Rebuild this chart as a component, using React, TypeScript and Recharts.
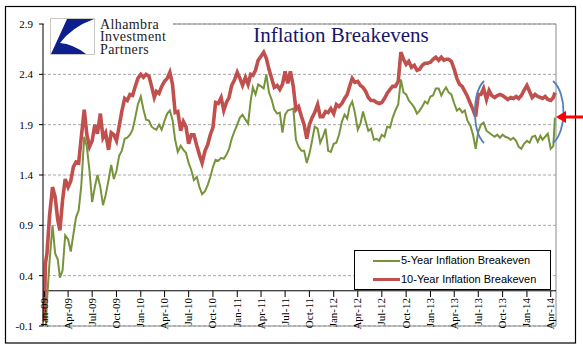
import React from 'react';
import { LineChart, Line, XAxis, YAxis, CartesianGrid, ReferenceLine } from 'recharts';

// ---- data ----
const DATES: string[] = [
  '2009-01-01','2009-01-05','2009-01-11','2009-01-21',
  '2009-02-01','2009-02-11','2009-02-21','2009-03-01','2009-03-11','2009-03-21',
  '2009-04-01','2009-04-11','2009-04-21','2009-05-01','2009-05-11','2009-05-21',
  '2009-06-01','2009-06-11','2009-06-21','2009-07-01','2009-07-11','2009-07-21',
  '2009-08-01','2009-08-11','2009-08-21','2009-09-01','2009-09-11','2009-09-21',
  '2009-10-01','2009-10-11','2009-10-21','2009-11-01','2009-11-11','2009-11-21',
  '2009-12-01','2009-12-11','2009-12-21',
  '2010-01-01','2010-01-11','2010-01-21','2010-02-01','2010-02-11','2010-02-21',
  '2010-03-01','2010-03-11','2010-03-21','2010-04-01','2010-04-11','2010-04-21',
  '2010-05-01','2010-05-11','2010-05-21','2010-06-01','2010-06-11','2010-06-21',
  '2010-07-01','2010-07-11','2010-07-21','2010-08-01','2010-08-11','2010-08-21',
  '2010-09-01','2010-09-11','2010-09-21','2010-10-01','2010-10-11','2010-10-21',
  '2010-11-01','2010-11-11','2010-11-21','2010-12-01','2010-12-11','2010-12-21',
  '2011-01-01','2011-01-11','2011-01-21','2011-02-01','2011-02-11','2011-02-21',
  '2011-03-01','2011-03-11','2011-03-21','2011-04-01','2011-04-11','2011-04-21',
  '2011-05-01','2011-05-11','2011-05-21','2011-06-01','2011-06-11','2011-06-21',
  '2011-07-01','2011-07-11','2011-07-21','2011-08-01','2011-08-11','2011-08-21',
  '2011-09-01','2011-09-11','2011-09-21','2011-10-01','2011-10-11','2011-10-21',
  '2011-11-01','2011-11-11','2011-11-21','2011-12-01','2011-12-11','2011-12-21',
  '2012-01-01','2012-01-11','2012-01-21','2012-02-01','2012-02-11','2012-02-21',
  '2012-03-01','2012-03-11','2012-03-21','2012-04-01','2012-04-11','2012-04-21',
  '2012-05-01','2012-05-11','2012-05-21','2012-06-01','2012-06-11','2012-06-21',
  '2012-07-01','2012-07-11','2012-07-21','2012-08-01','2012-08-11','2012-08-21',
  '2012-09-01','2012-09-11','2012-09-21','2012-10-01','2012-10-11','2012-10-21',
  '2012-11-01','2012-11-11','2012-11-21','2012-12-01','2012-12-11','2012-12-21',
  '2013-01-01','2013-01-11','2013-01-21','2013-02-01','2013-02-11','2013-02-21',
  '2013-03-01','2013-03-11','2013-03-21','2013-04-01','2013-04-11','2013-04-21',
  '2013-05-01','2013-05-11','2013-05-21','2013-06-01','2013-06-11','2013-06-21',
  '2013-07-01','2013-07-11','2013-07-21','2013-08-01','2013-08-11','2013-08-21',
  '2013-09-01','2013-09-11','2013-09-21','2013-10-01','2013-10-11','2013-10-21',
  '2013-11-01','2013-11-11','2013-11-21','2013-12-01','2013-12-11','2013-12-21',
  '2014-01-01','2014-01-11','2014-01-21','2014-02-01','2014-02-11','2014-02-21',
  '2014-03-01','2014-03-11','2014-03-21','2014-04-01','2014-04-11','2014-04-17',
];

const FIVE_YEAR: number[] = [
  -0.45, -0.2, 0.15, 0.55,
  0.90, 0.62, 0.56, 0.38, 0.45, 0.80,
  0.76, 0.64, 0.81, 0.98, 1.05, 1.30,
  1.78, 1.68, 1.44, 1.13, 1.28, 1.40,
  1.28, 1.10, 1.20, 1.35, 1.50, 1.36,
  1.44, 1.59, 1.64, 1.76, 1.77, 1.80,
  1.85, 1.97, 2.10,
  2.18, 2.05, 1.95, 1.94, 1.88, 1.86,
  1.85, 1.90, 1.85, 1.94, 2.01, 2.04,
  1.95, 1.75, 1.63, 1.69, 1.65, 1.62,
  1.52, 1.45, 1.35, 1.38, 1.28, 1.21,
  1.24, 1.30, 1.38, 1.48, 1.55, 1.54,
  1.57, 1.56, 1.60, 1.66, 1.76, 1.83,
  1.90, 1.97, 2.00, 1.95, 1.91, 2.14,
  2.27, 2.20, 2.30, 2.28, 2.26, 2.40,
  2.22, 2.15, 2.05, 2.01, 2.02, 1.82,
  2.00, 2.04, 2.05, 2.06, 1.75, 1.68,
  1.64, 1.64, 1.52, 1.61, 1.74, 1.88,
  1.86, 1.72, 1.78, 1.86, 1.64, 1.63,
  1.71, 1.72, 1.80, 1.93, 2.00, 1.96,
  2.08, 2.13, 2.02, 1.85, 1.91, 2.03,
  1.93, 1.84, 1.86, 1.75, 1.76, 1.74,
  1.80, 1.78, 1.88, 1.87, 1.97, 2.04,
  2.10, 2.35, 2.22, 2.20, 2.14, 2.11,
  2.07, 2.01, 2.04, 2.08, 2.13, 2.11,
  2.18, 2.19, 2.26, 2.26, 2.19, 2.24,
  2.27, 2.22, 2.20, 2.11, 2.04, 2.06,
  2.02, 2.04, 1.94, 1.89, 1.80, 1.66,
  1.83, 1.90, 1.92, 1.84, 1.82, 1.80,
  1.78, 1.80, 1.77, 1.80, 1.78, 1.77,
  1.75, 1.77, 1.74, 1.68, 1.66, 1.71,
  1.74, 1.72, 1.78, 1.79, 1.73, 1.79,
  1.75, 1.78, 1.81, 1.66, 1.69, 1.97,
];

const TEN_YEAR: number[] = [
  -0.05, 0.52, 0.62, 1.00,
  1.28, 1.18, 0.95, 0.85, 1.15, 1.36,
  1.28, 1.34, 1.48, 1.53, 1.52, 1.78,
  2.05, 1.80, 1.68, 1.74, 1.90, 1.81,
  2.01, 1.77, 1.82, 1.65, 1.82, 1.80,
  1.74, 1.88, 2.03, 2.16, 2.14, 2.20,
  2.19, 2.28, 2.36,
  2.40, 2.37, 2.40, 2.38, 2.28, 2.17,
  2.23, 2.21, 2.28, 2.33, 2.36, 2.42,
  2.30, 2.02, 2.03, 1.84, 1.93, 1.88,
  1.71, 1.80, 1.80, 1.69, 1.60, 1.52,
  1.64, 1.70, 1.80, 1.87, 2.12, 2.11,
  2.17, 2.04, 2.12, 2.17, 2.29, 2.34,
  2.42, 2.36, 2.29, 2.37, 2.30, 2.40,
  2.39, 2.44, 2.54, 2.58, 2.62, 2.56,
  2.45, 2.36, 2.27, 2.29, 2.25, 2.30,
  2.43, 2.31, 2.43, 2.28, 2.05, 2.08,
  1.98, 1.90, 1.76, 1.90, 1.97, 2.02,
  2.10, 1.98, 1.98, 2.03, 2.02, 2.06,
  2.01, 2.10, 2.08, 2.11, 2.16, 2.20,
  2.28, 2.36, 2.32, 2.33, 2.29, 2.27,
  2.23, 2.17, 2.14, 2.14, 2.12, 2.11,
  2.12, 2.16, 2.21, 2.25, 2.28, 2.28,
  2.33, 2.62, 2.55, 2.50, 2.53, 2.47,
  2.49, 2.44, 2.45, 2.49, 2.51, 2.51,
  2.52, 2.55, 2.57, 2.54, 2.57, 2.54,
  2.55, 2.55, 2.53, 2.45, 2.36, 2.30,
  2.28, 2.23, 2.18, 2.11, 2.05, 1.98,
  2.20, 2.20, 2.26, 2.15, 2.24, 2.19,
  2.17, 2.19, 2.20, 2.19, 2.17, 2.15,
  2.17, 2.16, 2.18, 2.16, 2.19, 2.24,
  2.29, 2.23, 2.17, 2.20, 2.18, 2.17,
  2.16, 2.18, 2.15, 2.14, 2.17, 2.22,
];

const Y_TICKS: number[] = [-0.1, 0.4, 0.9, 1.4, 1.9, 2.4, 2.9];
const X_TICK_DATES: string[] = [
  '2009-01-01','2009-04-01','2009-07-01','2009-10-01',
  '2010-01-01','2010-04-01','2010-07-01','2010-10-01',
  '2011-01-01','2011-04-01','2011-07-01','2011-10-01',
  '2012-01-01','2012-04-01','2012-07-01','2012-10-01',
  '2013-01-01','2013-04-01','2013-07-01','2013-10-01',
  '2014-01-01','2014-04-01',
];
const MONTHS: string[] = ['Jan','Feb','Mar','Apr','May','Jun','Jul','Aug','Sep','Oct','Nov','Dec'];
const X_DOMAIN: string[] = ['2008-12-27', '2014-04-21'];
const AXIS_CROSS = 0.25;
const LOGO_LINES: string[] = ['Alhambra', 'Investment', 'Partners'];
const TITLE = 'Inflation  Breakevens';

const SERIES = [
  { key: 'fiveYear', name: '5-Year Inflation Breakeven', color: '#77933C', width: 2 },
  { key: 'tenYear', name: '10-Year Inflation Breakeven', color: '#C0504D', width: 3.6 },
];

const data = DATES.map((d, i) => ({
  t: Date.parse(d),
  fiveYear: FIVE_YEAR[i],
  tenYear: TEN_YEAR[i],
}));

const fmtLabel = (v: number) => {
  const dt = new Date(v);
  return `${MONTHS[dt.getUTCMonth()]}-${String(dt.getUTCFullYear()).slice(2)}`;
};

const SERIF = '"Liberation Serif", "Times New Roman", serif';
const SANS = '"Liberation Sans", Arial, sans-serif';

const XTick = (props: any) => {
  const { x, y, payload } = props;
  const axisY = y - 35;
  const tx = x + 3.5;
  const ty = axisY + 7;
  return (
    <g>
      <line x1={x} x2={x} y1={axisY} y2={axisY + 6} stroke="#000" strokeWidth={1} />
      <text
        x={tx}
        y={ty}
        transform={`rotate(-90 ${tx} ${ty})`}
        textAnchor="end"
        fontFamily={SERIF}
        fontSize={11}
        fill="#000"
      >
        {fmtLabel(payload.value)}
      </text>
    </g>
  );
};

export default function App() {
  return (
    <div style={{ position: 'relative', width: 583, height: 361, background: '#fff' }}>
      <style>{`body{margin:0}`}</style>
      <LineChart
        width={583}
        height={361}
        data={data}
        margin={{ top: 24, right: 27, bottom: 0, left: 0 }}
      >
        <CartesianGrid vertical={false} stroke="#A6A6A6" strokeDasharray="3 2" />
        <XAxis
          dataKey="t"
          type="number"
          domain={X_DOMAIN.map((d) => Date.parse(d))}
          ticks={X_TICK_DATES.map((d) => Date.parse(d))}
          height={35}
          axisLine={false}
          tickLine={false}
          tickSize={0}
          tickMargin={0}
          interval={0}
          tick={<XTick />}
        />
        <YAxis
          type="number"
          domain={[-0.1, 2.9]}
          ticks={Y_TICKS}
          allowDataOverflow
          width={43}
          axisLine={{ stroke: '#000', strokeWidth: 1 }}
          tickLine={{ stroke: '#000', strokeWidth: 1 }}
          tickSize={4}
          tickMargin={6}
          interval={0}
          tick={{ fontFamily: SERIF, fontSize: 11, fill: '#000' }}
          tickFormatter={(v: number) => v.toFixed(1)}
        />
        <ReferenceLine y={2.9} stroke="#8C8C8C" strokeWidth={1} />
        <ReferenceLine y={-0.1} stroke="#8C8C8C" strokeWidth={1} />
        <ReferenceLine x={Date.parse(X_DOMAIN[1])} stroke="#8C8C8C" strokeWidth={1} />
        <ReferenceLine y={AXIS_CROSS} stroke="#000" strokeWidth={1} />
        {SERIES.map((s) => (
          <Line
            key={s.key}
            dataKey={s.key}
            name={s.name}
            type="linear"
            stroke={s.color}
            strokeWidth={s.width}
            dot={false}
            activeDot={false}
            isAnimationActive={false}
          />
        ))}
      </LineChart>

      {/* overlay: frame, logo, title, annotations */}
      <svg
        width={583}
        height={361}
        style={{ position: 'absolute', left: 0, top: 0, pointerEvents: 'none' }}
      >
        <rect x={5.5} y={6.5} width={570} height={336.5} fill="none" stroke="#000" strokeWidth={1.2} />
        <rect x={44} y={16} width={129} height={41} fill="#fff" />
        <rect x={50.5} y={18.5} width={44} height={36} fill="#fff" stroke="#C8C8C8" strokeWidth={1} />
        <path d="M67,19 L94,19 Q72,27 60,43 Q73,44 86,54 L51,54 Z" fill="#0D1F8C" />
        <text fontFamily={SERIF} fontSize={14} fill="#222" x={100} y={29}>
          {LOGO_LINES.map((l, i) => (
            <tspan key={l} x={100} dy={i === 0 ? 0 : 12.3} letterSpacing={0.4}>
              {l}
            </tspan>
          ))}
        </text>
        <text fontFamily={SERIF} fontSize={21} fill="#16166E" x={341} y={42} textAnchor="middle">
          {TITLE}
        </text>
        <path d="M484,81 C472,93 472,131 484,143" fill="none" stroke="#4F81BD" strokeWidth={1.8} />
        <path d="M553,81 C567,93 567,131 553,143" fill="none" stroke="#4F81BD" strokeWidth={1.8} />
        <line x1={583} y1={117} x2={563} y2={117} stroke="#FF0000" strokeWidth={3} />
        <polygon points="556,117 566,111 566,123" fill="#FF0000" />
      </svg>

      {/* legend */}
      <div
        style={{
          position: 'absolute',
          left: 354,
          top: 250,
          width: 197,
          height: 40,
          boxSizing: 'border-box',
          border: '1px solid #000',
          background: '#fff',
        }}
      >
        {SERIES.map((s) => (
          <div
            key={s.key}
            style={{ display: 'flex', alignItems: 'center', height: 19, paddingLeft: 18 }}
          >
            <div style={{ width: 27, height: s.width, background: s.color }} />
            <span
              style={{ fontFamily: SANS, fontSize: 11, color: '#000', marginLeft: 1, lineHeight: '19px', whiteSpace: 'nowrap' }}
            >
              {s.name}
            </span>
          </div>
        ))}
      </div>
    </div>
  );
}
